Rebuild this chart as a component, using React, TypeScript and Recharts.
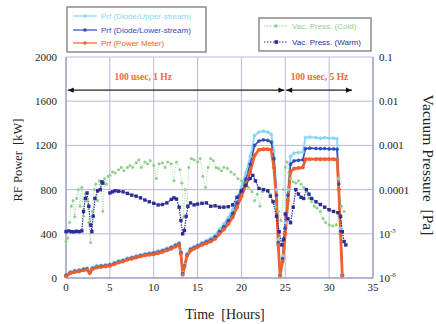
import React from 'react';
import { ComposedChart, Line, XAxis, YAxis, CartesianGrid, ReferenceLine, ReferenceDot } from 'recharts';

// ---------- data ----------
const timeTicks = [0, 5, 10, 15, 20, 25, 30, 35];
const powerTicks = [0, 400, 800, 1200, 1600, 2000];
const pressureTicks = [1e-6, 1e-5, 1e-4, 1e-3, 1e-2, 0.1];

const prfTime = [0, 0.5, 1, 1.5, 2, 2.4, 2.7, 3, 3.5, 4, 4.5, 5, 5.5, 6, 6.5, 7, 7.5, 8, 8.5, 9, 9.5, 10, 10.5, 11, 11.5, 12, 12.5, 12.9, 13.1, 13.3, 13.5, 13.8, 14.2, 14.6, 15, 15.5, 16, 16.5, 17, 17.5, 18, 18.5, 19, 19.5, 20, 20.5, 21, 21.5, 22, 22.5, 23, 23.4, 23.7, 24, 24.2, 24.4, 24.7, 25, 25.3, 25.6, 26, 26.5, 27, 27.3, 27.8, 28.5, 29, 29.5, 30, 30.5, 30.9, 31.1, 31.3, 31.5];
const prfUpper = [30, 55, 70, 75, 85, 90, 60, 95, 110, 115, 120, 125, 140, 155, 165, 180, 190, 200, 210, 220, 228, 235, 245, 255, 270, 285, 305, 320, 240, 50, 120, 220, 270, 285, 300, 320, 340, 360, 390, 440, 490, 550, 620, 720, 830, 950, 1100, 1290, 1320, 1330, 1320, 1300, 1150, 800, 350, 30, 200, 500, 800, 1100, 1130, 1135, 1140, 1270, 1275, 1270, 1265, 1270, 1265, 1265, 1260, 900, 450, 30];
const prfLower = [25, 50, 62, 68, 78, 82, 52, 88, 102, 107, 112, 118, 132, 147, 157, 172, 182, 192, 202, 212, 219, 225, 235, 245, 260, 275, 295, 310, 230, 40, 110, 210, 260, 275, 290, 310, 327, 345, 372, 420, 465, 520, 585, 680, 785, 895, 1030, 1200, 1240, 1250, 1245, 1230, 1080, 750, 320, 25, 175, 450, 750, 1030, 1060, 1065, 1070, 1170, 1175, 1172, 1170, 1172, 1168, 1168, 1165, 850, 420, 25];
const prfMeter = [15, 45, 55, 60, 70, 75, 45, 80, 95, 100, 105, 110, 125, 140, 150, 165, 175, 185, 195, 205, 210, 215, 225, 235, 250, 265, 285, 300, 220, 30, 100, 200, 250, 265, 280, 300, 315, 330, 355, 400, 440, 490, 550, 640, 740, 840, 960, 1110, 1160, 1165, 1165, 1160, 1000, 700, 300, 20, 150, 400, 700, 960, 990, 995, 1000, 1075, 1075, 1075, 1075, 1075, 1075, 1075, 1070, 800, 400, 20];

const coldTime = [0, 0.2, 0.4, 0.6, 0.8, 1.0, 1.2, 1.4, 1.6, 1.8, 2.0, 2.2, 2.4, 2.6, 2.8, 3.0, 3.2, 3.4, 3.6, 3.8, 4.0, 4.2, 4.4, 4.6, 4.8, 5.0, 5.3, 5.6, 6.0, 6.3, 6.6, 7.0, 7.3, 7.6, 8.0, 8.3, 8.6, 9.0, 9.3, 9.6, 10.0, 10.3, 10.6, 11.0, 11.3, 11.6, 12.0, 12.3, 12.6, 13.0, 13.2, 13.4, 13.6, 13.8, 14.0, 14.3, 14.6, 15.0, 15.3, 15.6, 15.9, 16.2, 16.5, 16.8, 17.1, 17.4, 17.7, 18.0, 18.4, 18.8, 19.2, 19.6, 20.0, 20.4, 20.8, 21.2, 21.5, 21.8, 22.1, 22.4, 22.7, 23.0, 23.3, 23.6, 23.9, 24.2, 24.5, 24.8, 25.0, 25.2, 25.4, 25.6, 25.9, 26.2, 26.5, 26.8, 27.1, 27.4, 27.7, 28.0, 28.3, 28.6, 29.0, 29.3, 29.6, 30.0, 30.4, 30.8, 31.1, 31.4, 31.7];
const coldPressure = [6.7e-6, 7.9e-6, 1.8e-5, 4.2e-5, 5.6e-5, 2.4e-5, 6.3e-5, 1.0e-4, 4.2e-5, 1.12e-4, 2.5e-5, 7.9e-5, 5.6e-5, 1.8e-5, 6.3e-6, 3.2e-5, 1.0e-4, 1.33e-4, 5.6e-5, 1.58e-4, 1.33e-4, 3.2e-5, 1.78e-4, 1.33e-4, 2.0e-4, 2.1e-4, 2.5e-4, 2.37e-4, 2.8e-4, 3.16e-4, 2.66e-4, 3.16e-4, 3.5e-4, 3.16e-4, 4.0e-4, 4.7e-4, 3.16e-4, 4.2e-4, 3.8e-4, 4.5e-4, 3.5e-4, 1.78e-4, 3.8e-4, 4.0e-4, 3.16e-4, 4.2e-4, 3.8e-4, 1.58e-4, 4.2e-4, 2.8e-4, 1.4e-4, 2.4e-5, 1.0e-4, 4.2e-5, 3.16e-4, 5.0e-4, 4.7e-4, 4.2e-4, 5.0e-4, 2.0e-4, 1.12e-4, 3.16e-4, 5.0e-4, 4.5e-4, 3.16e-4, 3.0e-4, 2.66e-4, 3.16e-4, 3.0e-4, 2.5e-4, 2.2e-4, 1.78e-4, 1.58e-4, 1.33e-4, 1.12e-4, 8.9e-5, 5.6e-5, 7.9e-5, 4.2e-5, 8.9e-5, 1.0e-4, 9.4e-5, 7.9e-5, 5.6e-5, 4.0e-5, 3.2e-5, 2.0e-5, 1.0e-4, 3.16e-4, 4.2e-4, 2.37e-4, 1.78e-4, 1.5e-4, 1.4e-4, 1.58e-4, 1.33e-4, 1.12e-4, 8.9e-5, 6.3e-5, 5.3e-5, 4.2e-5, 3.8e-5, 3.2e-5, 2.2e-5, 1.8e-5, 1.58e-5, 1.5e-5, 1.58e-5, 2.5e-5, 4.2e-5, 3.2e-5];

const warmTime = [0, 0.3, 0.6, 0.9, 1.2, 1.5, 1.8, 2.0, 2.2, 2.4, 2.6, 2.8, 2.95, 3.1, 3.3, 3.6, 3.9, 4.1, 4.2, 4.6, 5.0, 5.3, 5.6, 6.0, 6.5, 7.0, 7.5, 8.0, 8.5, 9.0, 9.5, 10.0, 10.5, 11.0, 11.5, 12.0, 12.3, 12.6, 12.9, 13.1, 13.3, 13.5, 13.7, 13.9, 14.2, 14.6, 15.0, 15.5, 16.0, 16.5, 17.0, 17.5, 18.0, 18.5, 19.0, 19.5, 20.0, 20.5, 21.0, 21.3, 21.6, 22.0, 22.5, 23.0, 23.3, 23.6, 24.0, 24.3, 24.6, 24.8, 25.0, 25.3, 25.6, 25.9, 26.2, 26.5, 26.8, 27.1, 27.4, 27.7, 28.0, 28.5, 29.0, 29.5, 30.0, 30.5, 31.0, 31.3, 31.5, 31.7, 31.9];
const warmPressure = [1.12e-5, 1.16e-5, 1.12e-5, 1.11e-5, 1.14e-5, 1.12e-5, 1.16e-5, 3.2e-5, 6.3e-5, 8.4e-5, 4.2e-5, 1.58e-5, 1.12e-5, 2.5e-5, 6.3e-5, 9.4e-5, 1.0e-4, 1.5e-4, 1.4e-4, null, 8.4e-5, 8.9e-5, 9.4e-5, 9.2e-5, 8.9e-5, 8.2e-5, 7.5e-5, 7.1e-5, 6.5e-5, 5.8e-5, 5.3e-5, 4.9e-5, 4.5e-5, 4.6e-5, 5.0e-5, 6.0e-5, 6.5e-5, 6.1e-5, 4.0e-5, 2.0e-5, 1.0e-5, 1.19e-5, 2.5e-5, 4.2e-5, 5.0e-5, 4.5e-5, 4.7e-5, 4.9e-5, 5.0e-5, 4.2e-5, 4.3e-5, 4.0e-5, 4.0e-5, 4.1e-5, 4.5e-5, 6.7e-5, 9.4e-5, 1.26e-4, 1.78e-4, 2.1e-4, 1.58e-4, 1.06e-4, 1.0e-4, 9.4e-5, 7.1e-5, 5.3e-5, 2.5e-5, 1.12e-5, 5.6e-6, 7.5e-6, 2.8e-5, 2.2e-5, 1.78e-5, 4.0e-5, 1.0e-4, 7.9e-5, 6.7e-5, 6.3e-5, 1.0e-4, 7.9e-5, 6.3e-5, 5.3e-5, 4.6e-5, 4.0e-5, 3.5e-5, 3.2e-5, 3.0e-5, 2.5e-5, 1.12e-5, 6.7e-6, 5.6e-6];

const COLORS = {
  upper: '#88d6f2',
  lower: '#2f4cb8',
  meter: '#f0602c',
  cold: '#8ccf8c',
  warm: '#2c2c96',
  grid: '#b8b8e0',
  frame: '#8a8ab8',
  note: '#ee6a3a',
};

const zip = (t: number[], v: (number | null)[]) => t.map((x, i) => ({ t: x, v: v[i] }));
const upperData = zip(prfTime, prfUpper);
const lowerData = zip(prfTime, prfLower);
const meterData = zip(prfTime, prfMeter);
const coldData = zip(coldTime, coldPressure);
const warmData = zip(warmTime, warmPressure);

const FONT = '"Liberation Serif", "DejaVu Serif", serif';
const SANS = '"Liberation Sans", Arial, sans-serif';

const RightTick = (props: any) => {
  const { x, y, payload } = props;
  const v = payload.value as number;
  let content: React.ReactNode;
  if (v >= 1e-4) {
    const s = v === 0.1 ? '0.1' : v === 0.01 ? '0.01' : v === 0.001 ? '0.001' : '0.0001';
    content = s;
  } else {
    const exp = Math.round(Math.log10(v));
    content = (
      <>
        <tspan>10</tspan>
        <tspan dy={-5} fontSize={7} fontStyle="italic">{String(exp)}</tspan>
      </>
    );
  }
  return (
    <text x={x} y={y} dy="0.355em" textAnchor="start" fontFamily={FONT} fontSize={11} fill="#222">
      {content}
    </text>
  );
};

const SquareDot = (props: any) => {
  const { cx, cy, index } = props;
  if (cx == null || cy == null || isNaN(cy)) return <g key={`w${index}`} />;
  return <rect key={`w${index}`} x={cx - 1.7} y={cy - 1.7} width={3.4} height={3.4} fill={COLORS.warm} />;
};

const DoubleArrow = (props: any) => {
  const { x1, y1, x2, y2 } = props;
  const h = 6;
  const w = 2.6;
  return (
    <g>
      <line x1={x1} y1={y1} x2={x2} y2={y2} stroke="#222" strokeWidth={1.2} />
      <polygon points={`${x1},${y1} ${x1 + h},${y1 - w} ${x1 + h},${y1 + w}`} fill="#111" />
      <polygon points={`${x2},${y2} ${x2 - h},${y2 - w} ${x2 - h},${y2 + w}`} fill="#111" />
    </g>
  );
};

const NoteText = (text: string) => (props: any) => (
  <text x={props.cx} y={props.cy} textAnchor="middle" dy="0.35em" fontFamily={FONT} fontWeight="bold" fontSize={9.5} fill={COLORS.note}>
    {text}
  </text>
);

const LegendItem = ({ x, y, color, label, dotted, square }: any) => (
  <g>
    <line x1={x} y1={y} x2={x + 24} y2={y} stroke={color} strokeWidth={1.2} strokeDasharray={dotted ? '1.5 1.5' : undefined} />
    {square ? (
      <rect x={x + 10.5} y={y - 1.8} width={3.6} height={3.6} fill={color} />
    ) : (
      <circle cx={x + 12} cy={y} r={1.8} fill={color} />
    )}
    <text x={x + 28} y={y} dy="0.35em" fontFamily={SANS} fontSize={8} fill={color}>{label}</text>
  </g>
);

export default function App() {
  return (
    <div style={{ position: 'absolute', left: 0, top: 0, width: 436, height: 324, background: '#fff' }}>
      <ComposedChart width={436} height={324} margin={{ top: 57, right: 18, bottom: 16, left: 16 }}>
        <CartesianGrid yAxisId="left" stroke={COLORS.grid} strokeWidth={1} />
        <XAxis
          dataKey="t"
          type="number"
          domain={[0, 35]}
          ticks={timeTicks}
          allowDuplicatedCategory={false}
          height={30}
          tickSize={0}
          tickMargin={5}
          stroke={COLORS.frame}
          tick={{ fontFamily: FONT, fontSize: 11, fill: '#222' }}
        />
        <YAxis
          yAxisId="left"
          domain={[0, 2000]}
          ticks={powerTicks}
          width={50}
          tickSize={0}
          tickMargin={9}
          stroke={COLORS.frame}
          allowDataOverflow
          tick={{ fontFamily: FONT, fontSize: 11, fill: '#222' }}
        />
        <YAxis
          yAxisId="right"
          orientation="right"
          scale="log"
          domain={[1e-6, 0.1]}
          ticks={pressureTicks}
          width={45}
          tickSize={0}
          tickMargin={6}
          stroke={COLORS.frame}
          allowDataOverflow
          tick={<RightTick />}
        />
        <Line yAxisId="right" data={coldData} dataKey="v" stroke={COLORS.cold} strokeWidth={0.8} strokeDasharray="1 1.5"
          dot={{ r: 1.4, fill: COLORS.cold, stroke: COLORS.cold, strokeWidth: 0.4 }} isAnimationActive={false} />
        <Line yAxisId="left" data={upperData} dataKey="v" stroke={COLORS.upper} strokeWidth={1.8}
          dot={{ r: 1.6, fill: COLORS.upper, stroke: COLORS.upper, strokeWidth: 0.4 }} isAnimationActive={false} />
        <Line yAxisId="left" data={lowerData} dataKey="v" stroke={COLORS.lower} strokeWidth={1.6}
          dot={{ r: 1.6, fill: COLORS.lower, stroke: COLORS.lower, strokeWidth: 0.4 }} isAnimationActive={false} />
        <Line yAxisId="left" data={meterData} dataKey="v" stroke={COLORS.meter} strokeWidth={2.8}
          dot={{ r: 1.8, fill: COLORS.meter, stroke: COLORS.meter, strokeWidth: 0.4 }} isAnimationActive={false} />
        <Line yAxisId="right" data={warmData} dataKey="v" stroke={COLORS.warm} strokeWidth={1.2} strokeDasharray="1.5 1"
          dot={<SquareDot />} connectNulls={false} isAnimationActive={false} />
        <ReferenceLine yAxisId="left" segment={[{ x: 0.2, y: 1700 }, { x: 24.9, y: 1700 }]} shape={DoubleArrow} ifOverflow="visible" />
        <ReferenceLine yAxisId="left" segment={[{ x: 25.1, y: 1700 }, { x: 32.6, y: 1700 }]} shape={DoubleArrow} ifOverflow="visible" />
        <ReferenceDot yAxisId="left" x={8.8} y={1820} r={0} shape={NoteText('100 usec, 1 Hz')} ifOverflow="visible" />
        <ReferenceDot yAxisId="left" x={28.9} y={1820} r={0} shape={NoteText('100 usec, 5 Hz')} ifOverflow="visible" />
      </ComposedChart>
      <svg width={436} height={324} style={{ position: 'absolute', left: 0, top: 0, pointerEvents: 'none' }}>
        <rect x={67} y={7} width={139} height={45} fill="#fff" stroke="#8a8a8a" strokeWidth={1.5} />
        <LegendItem x={73} y={16} color={COLORS.upper} label="Prf (Diode/Upper-stream)" />
        <LegendItem x={73} y={30} color={COLORS.lower} label="Prf (Diode/Lower-stream)" />
        <LegendItem x={73} y={43} color={COLORS.meter} label="Prf (Power Meter)" />
        <rect x={259} y={18} width={112} height={33} fill="#fff" stroke="#8a8a8a" strokeWidth={1.5} />
        <LegendItem x={264} y={26} color={COLORS.cold} label="Vac. Press. (Cold)" dotted />
        <LegendItem x={264} y={42} color={COLORS.warm} label="Vac. Press. (Warm)" dotted square />
        <text x={225} y={319} textAnchor="middle" fontFamily={FONT} fontSize={14} fill="#222" style={{ whiteSpace: 'pre' }}>
          {'Time  [Hours]'}
        </text>
        <text x={18} y={160} textAnchor="middle" dy="0.35em" fontFamily={FONT} fontSize={12.5} fill="#222"
          transform="rotate(-90 18 160)" style={{ whiteSpace: 'pre' }}>
          {'RF Power  [kW]'}
        </text>
        <text x={428} y={165} textAnchor="middle" dy="0.35em" fontFamily={FONT} fontSize={15.5} fill="#222"
          transform="rotate(90 428 165)" style={{ whiteSpace: 'pre' }}>
          {'Vacuum Pressure  [Pa]'}
        </text>
      </svg>
    </div>
  );
}
